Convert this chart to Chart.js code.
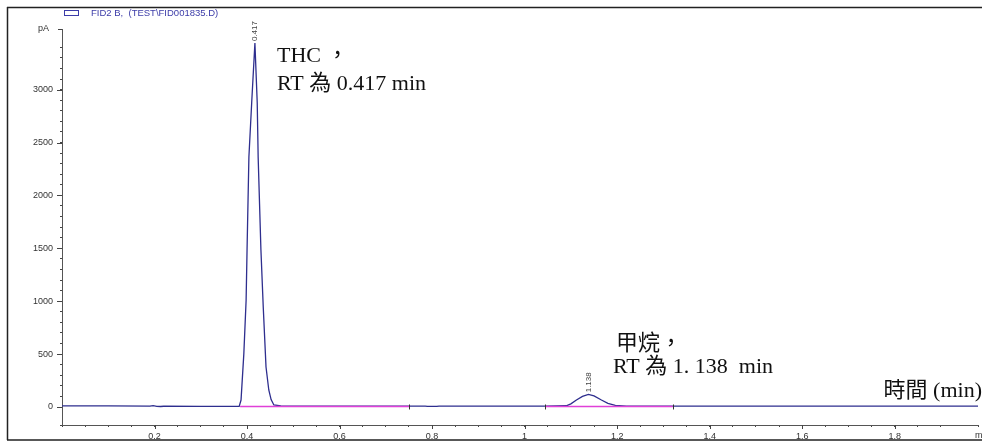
<!DOCTYPE html>
<html lang="zh-Hant">
<head>
    <meta charset="UTF-8">
    <title>FID2 B chromatogram</title>
    <script src="https://cdn.jsdelivr.net/npm/chart.js"></script>
    <style>
        html, body {
            margin: 0;
            padding: 0;
            background: #fff;
        }
        canvas {
            display: block;
        }
    </style>
</head>
<body>

    <canvas id="fidChart" width="982" height="441"></canvas>

    <script>
        // signal trace (min, pA)
        const times = [0, 0.10, 0.19, 0.197, 0.205, 0.213, 0.22, 0.30, 0.37, 0.383,
            0.387, 0.393, 0.398, 0.400, 0.404, 0.410, 0.417,
            0.422, 0.424, 0.430, 0.435, 0.441, 0.447, 0.452, 0.458, 0.473, 0.50,
            0.60, 0.70, 0.785, 0.79, 0.81, 0.815, 0.90, 1.00, 1.045,
            1.09, 1.10, 1.112, 1.125, 1.138, 1.15, 1.166, 1.18, 1.196, 1.22,
            1.40, 1.60, 1.80, 1.98];
        const signal = [10, 10, 9, 13, 6, 5, 7, 6, 6, 6,
            66, 500, 1011, 1484, 2363, 2873, 3440,
            2873, 2363, 1484, 945, 378, 161, 70, 19, 10, 9,
            9, 9, 9, 6, 6, 9, 9, 9, 9,
            12, 30, 66, 100, 120, 105, 66, 35, 15, 9,
            9, 9, 9, 9];

        // integration baselines
        const baseTimes = [0.385, 0.75, 0.76, 1.045, 1.32];
        const baseValues = [5, 5, null, 5, 5];
        const baseMarks = [0.75, 1.045, 1.32];

        // peak labels
        const peakTimes = [0.417, 1.138];
        const peakHeights = [3440, 120];
        const peakLabels = ['0.417', '1.138'];

        const axisFamily = 'Arial, "Liberation Sans", sans-serif';
        const noteFont = '22px "Liberation Serif", "Noto Sans CJK TC", serif';

        function isMajor(v, step) {
            const r = v / step;
            return Math.abs(r - Math.round(r)) < 1e-6;
        }

        const decorPlugin = {
            id: 'decor',
            afterDraw(chart) {
                const ctx = chart.ctx;
                const xs = chart.scales.x;
                const ys = chart.scales.y;
                ctx.save();

                // outer frame
                ctx.strokeStyle = '#222';
                ctx.lineWidth = 1.5;
                ctx.beginPath();
                ctx.moveTo(7, 7.5); ctx.lineTo(982, 7.5);
                ctx.moveTo(7.5, 7); ctx.lineTo(7.5, 440);
                ctx.moveTo(7, 440); ctx.lineTo(982, 440);
                ctx.stroke();

                // longer major ticks
                ctx.strokeStyle = '#444';
                ctx.lineWidth = 1;
                ctx.beginPath();
                xs.ticks.forEach(t => {
                    if (t.value > 0 && isMajor(t.value, 0.2)) {
                        const px = Math.round(xs.getPixelForValue(t.value)) + 0.5;
                        ctx.moveTo(px, xs.top); ctx.lineTo(px, xs.top + 4);
                    }
                });
                ys.ticks.forEach(t => {
                    if (t.value >= 0 && isMajor(t.value, 500)) {
                        const py = Math.round(ys.getPixelForValue(t.value)) + 0.5;
                        ctx.moveTo(ys.right, py); ctx.lineTo(ys.right - 5, py);
                    }
                });
                const topY = Math.round(ys.top) + 0.5;
                ctx.moveTo(ys.right, topY); ctx.lineTo(ys.right - 4, topY);
                ctx.stroke();

                // baseline markers
                ctx.strokeStyle = '#333';
                ctx.beginPath();
                baseMarks.forEach(t => {
                    const px = Math.round(xs.getPixelForValue(t)) + 0.5;
                    const py = ys.getPixelForValue(5);
                    ctx.moveTo(px, py - 2); ctx.lineTo(px, py + 3);
                });
                ctx.stroke();

                // legend
                ctx.strokeStyle = '#3c3ca8';
                ctx.strokeRect(64.5, 10.5, 14, 5);
                ctx.fillStyle = '#3c3ca8';
                ctx.font = '9.5px ' + axisFamily;
                ctx.textBaseline = 'middle';
                ctx.textAlign = 'left';
                ctx.fillText('FID2 B,  (TEST\\FID001835.D)', 91, 13);

                // unit labels
                ctx.fillStyle = '#333';
                ctx.font = '9px ' + axisFamily;
                ctx.fillText('pA', 38, 29);
                ctx.fillText('min', 975, 436);

                // peak retention labels
                ctx.fillStyle = '#444';
                ctx.font = '8px ' + axisFamily;
                peakTimes.forEach((t, i) => {
                    const px = xs.getPixelForValue(t);
                    const py = ys.getPixelForValue(peakHeights[i]);
                    ctx.save();
                    ctx.translate(px, py - 2);
                    ctx.rotate(-Math.PI / 2);
                    ctx.textAlign = 'left';
                    ctx.textBaseline = 'middle';
                    ctx.fillText(peakLabels[i], 0, 0);
                    ctx.restore();
                });

                // annotations
                ctx.fillStyle = '#111';
                ctx.font = noteFont;
                ctx.textBaseline = 'alphabetic';
                ctx.textAlign = 'left';
                ctx.fillText('THC \uFF0C', 277, 62);
                ctx.fillText('RT 為 0.417 min', 277, 90);
                ctx.fillText('甲烷，', 616, 350);
                ctx.fillText('RT 為 1. 138  min', 613, 373);
                ctx.textAlign = 'right';
                ctx.fillText('時間 (min)', 982, 397);

                ctx.restore();
            }
        };

        document.addEventListener('DOMContentLoaded', function () {
            const ctx = document.getElementById('fidChart').getContext('2d');
            const fidChart = new Chart(ctx, {
                type: 'line',
                data: {
                    datasets: [{
                        label: 'baseline',
                        data: baseTimes.map((t, i) => ({ x: t, y: baseValues[i] })),
                        borderColor: '#e040d8',
                        borderWidth: 1.3,
                        pointRadius: 0,
                        spanGaps: false,
                        tension: 0
                    }, {
                        label: 'FID2 B, (TEST\\FID001835.D)',
                        data: times.map((t, i) => ({ x: t, y: signal[i] })),
                        borderColor: '#2e2e8e',
                        borderWidth: 1.3,
                        pointRadius: 0,
                        tension: 0
                    }]
                },
                options: {
                    responsive: false,
                    animation: false,
                    devicePixelRatio: 1,
                    layout: {
                        padding: { left: 0, top: 29, right: 0, bottom: 0 }
                    },
                    plugins: {
                        legend: { display: false },
                        tooltip: { enabled: false }
                    },
                    scales: {
                        x: {
                            type: 'linear',
                            min: 0,
                            max: 1.98,
                            afterFit(scale) { scale.height = 16; },
                            grid: {
                                drawOnChartArea: false,
                                drawTicks: true,
                                tickLength: 2,
                                tickColor: '#444'
                            },
                            border: { color: '#555', width: 1 },
                            ticks: {
                                stepSize: 0.05,
                                autoSkip: false,
                                maxRotation: 0,
                                padding: 4,
                                color: '#333',
                                font: { family: axisFamily, size: 9 },
                                callback: v => (v > 0 && isMajor(v, 0.2)) ? String(Number(v.toFixed(1))) : ''
                            }
                        },
                        y: {
                            min: -170,
                            max: 3573,
                            afterFit(scale) { scale.width = 62; },
                            grid: {
                                drawOnChartArea: false,
                                drawTicks: true,
                                tickLength: 2,
                                tickColor: '#444'
                            },
                            border: { color: '#555', width: 1 },
                            ticks: {
                                stepSize: 100,
                                autoSkip: false,
                                padding: 7,
                                color: '#333',
                                font: { family: axisFamily, size: 9 },
                                callback: v => (v >= 0 && isMajor(v, 500)) ? String(v) : ''
                            }
                        }
                    }
                },
                plugins: [decorPlugin]
            });
        });
    </script>

</body>
</html>
